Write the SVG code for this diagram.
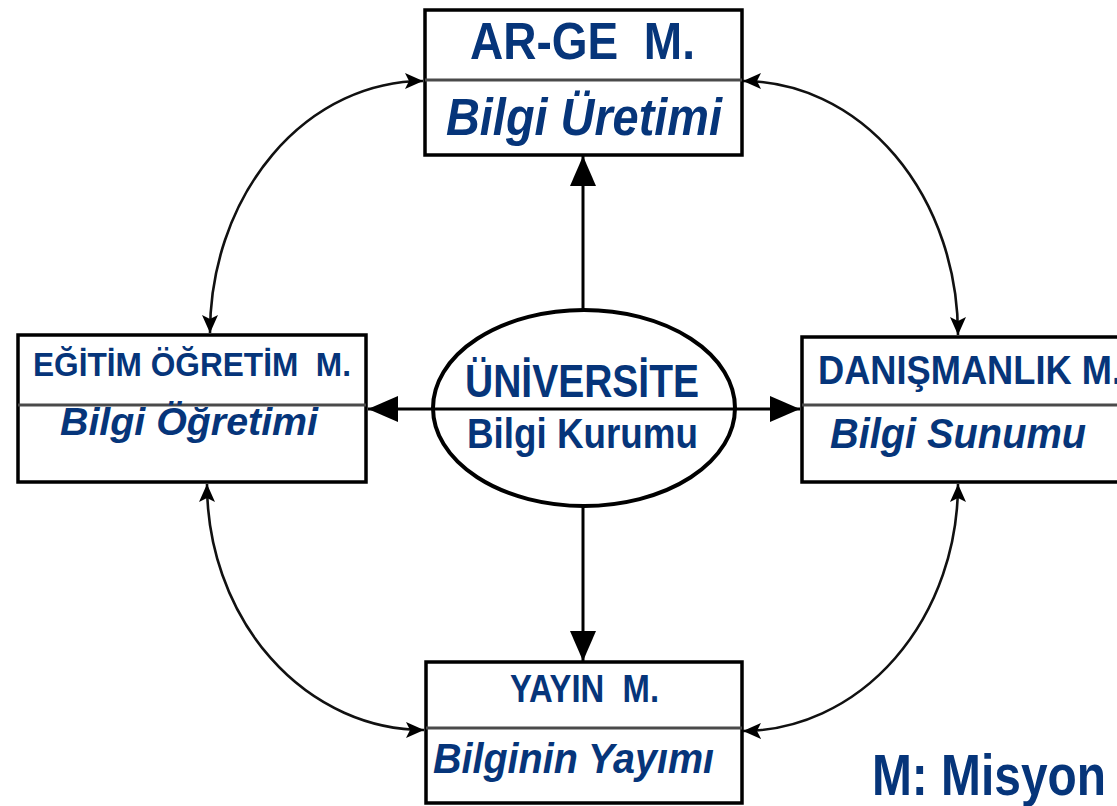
<svg xmlns="http://www.w3.org/2000/svg" width="1117" height="806" viewBox="0 0 1117 806">
  <style>
    .box { fill: #ffffff; stroke: #000000; stroke-width: 3.5; }
    .div { stroke: #4a4a4a; stroke-width: 3; }
    .t { font-family: "Liberation Sans", Arial, sans-serif; font-weight: bold; fill: #06357a; }
    .it { font-style: italic; }
    .main { fill: none; stroke: #000000; stroke-width: 3; }
    .curve { fill: none; stroke: #111111; stroke-width: 2.6; }
  </style>
  <defs>
    <marker id="bigArrow" markerUnits="userSpaceOnUse" markerWidth="32" markerHeight="28" refX="30" refY="13" orient="auto-start-reverse">
      <path d="M0,0 L30,13 L0,26 z" fill="#000000"/>
    </marker>
    <marker id="smallArrow" markerUnits="userSpaceOnUse" markerWidth="20" markerHeight="18" refX="18" refY="8" orient="auto-start-reverse">
      <path d="M0,0 L18,8 L0,16 L4,8 z" fill="#000000"/>
    </marker>
  </defs>

  <g id="connectors">
    <line class="main" x1="583" y1="310" x2="583" y2="156" marker-end="url(#bigArrow)"/>
    <line class="main" x1="583" y1="507" x2="583" y2="661" marker-end="url(#bigArrow)"/>
    <path class="curve" d="M 423,81 A 213 252 0 0 0 210,333" marker-start="url(#smallArrow)" marker-end="url(#smallArrow)"/>
    <path class="curve" d="M 743,81 A 215 254 0 0 1 958,335" marker-start="url(#smallArrow)" marker-end="url(#smallArrow)"/>
    <path class="curve" d="M 207,484 A 217 246 0 0 0 424,730" marker-start="url(#smallArrow)" marker-end="url(#smallArrow)"/>
    <path class="curve" d="M 958,484 A 216 247 0 0 1 743,731" marker-start="url(#smallArrow)" marker-end="url(#smallArrow)"/>
  </g>

  <g id="node-arge">
    <rect class="box" x="425" y="10" width="317" height="145"/>
    <line class="div" x1="425" y1="80" x2="742" y2="80"/>
    <text class="t" x="470" y="59" font-size="52" textLength="225" lengthAdjust="spacingAndGlyphs" xml:space="preserve">AR-GE  M.</text>
    <text class="t it" x="446" y="135" font-size="51" textLength="276" lengthAdjust="spacingAndGlyphs">Bilgi Üretimi</text>
  </g>

  <g id="node-egitim">
    <rect class="box" x="18" y="335" width="348" height="147"/>
    <line class="div" x1="18" y1="405" x2="366" y2="405"/>
    <text class="t" x="33" y="376" font-size="34" textLength="318" lengthAdjust="spacingAndGlyphs" xml:space="preserve">EĞİTİM ÖĞRETİM  M.</text>
    <text class="t it" x="60" y="435" font-size="39" textLength="258" lengthAdjust="spacingAndGlyphs">Bilgi Öğretimi</text>
  </g>

  <g id="node-danismanlik">
    <rect class="box" x="802" y="337" width="330" height="145"/>
    <line class="div" x1="802" y1="405" x2="1132" y2="405"/>
    <text class="t" x="818" y="384" font-size="40" textLength="304" lengthAdjust="spacingAndGlyphs">DANIŞMANLIK M.</text>
    <text class="t it" x="830" y="448" font-size="43" textLength="256" lengthAdjust="spacingAndGlyphs">Bilgi Sunumu</text>
  </g>

  <g id="node-yayin">
    <rect class="box" x="426" y="662" width="316" height="141"/>
    <line class="div" x1="426" y1="728" x2="742" y2="728"/>
    <text class="t" x="510" y="702" font-size="38" textLength="149" lengthAdjust="spacingAndGlyphs" xml:space="preserve">YAYIN  M.</text>
    <text class="t it" x="433" y="773" font-size="43" textLength="281" lengthAdjust="spacingAndGlyphs">Bilginin Yayımı</text>
  </g>

  <g id="node-universite">
    <ellipse cx="584" cy="408" rx="151" ry="98" fill="#ffffff" stroke="#000000" stroke-width="4"/>
    <text class="t" x="465" y="397" font-size="47" textLength="234" lengthAdjust="spacingAndGlyphs">ÜNİVERSİTE</text>
    <text class="t" x="467" y="448" font-size="42" textLength="231" lengthAdjust="spacingAndGlyphs">Bilgi Kurumu</text>
  </g>

  <g id="connector-horizontal">
    <line class="main" x1="368" y1="409" x2="800" y2="409" marker-start="url(#bigArrow)" marker-end="url(#bigArrow)"/>
  </g>

  <g id="legend">
    <text class="t" x="872" y="795" font-size="57" textLength="234" lengthAdjust="spacingAndGlyphs">M: Misyon</text>
  </g>
</svg>
